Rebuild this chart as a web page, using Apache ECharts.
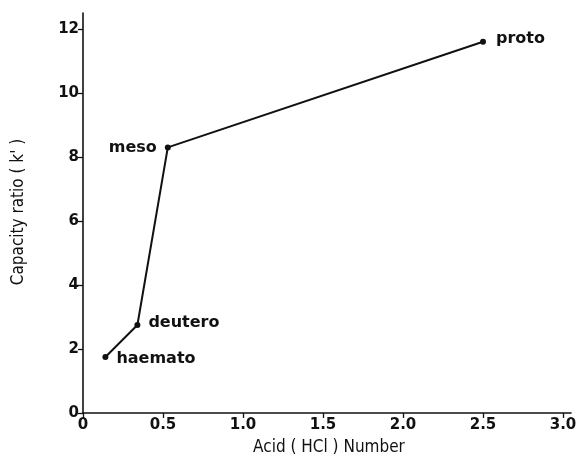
<!DOCTYPE html>
<html><head><meta charset="utf-8">
<script src="https://cdn.jsdelivr.net/npm/echarts@6/dist/echarts.min.js"></script>
<style>html,body{margin:0;padding:0;background:#fff}#c{width:580px;height:466px}</style>
</head><body><div id="c"></div>
<script>
const names = ['haemato', 'deutero', 'meso', 'proto'];
const acidNumber = [0.14, 0.34, 0.53, 2.5];
const capacityRatio = [1.75, 2.75, 8.3, 11.6];
const xTicks = [0, 0.5, 1.0, 1.5, 2.0, 2.5, 3.0];
const yTicks = [0, 2, 4, 6, 8, 10, 12];
const xTitle = 'Acid ( HCl ) Number';
const yTitle = "Capacity ratio ( k' )";

const labelPos = {haemato: 'right', deutero: 'right', meso: 'left', proto: 'right'};
const labelOff = {haemato: [3, 2], deutero: [3, -2], meso: [-3, 0], proto: [5, -3]};
const titleFont = '"DejaVu Sans Condensed", "Liberation Sans"';

const chart = echarts.init(document.getElementById('c'));
chart.setOption({
  animation: false,
  backgroundColor: '#fff',
  grid: {left: 83, right: 9, top: 13, bottom: 53},
  graphic: [
    {type: 'text', x: 329, y: 448, style: {text: xTitle, fill: '#111', font: '17px ' + titleFont, align: 'center', verticalAlign: 'middle'}},
    {type: 'text', x: 19, y: 212, rotation: Math.PI / 2, style: {text: yTitle, fill: '#111', font: '17px ' + titleFont, align: 'center', verticalAlign: 'middle'}}
  ],
  xAxis: {
    type: 'value', min: 0, max: 3.05,
    axisLine: {show: true, onZero: false, lineStyle: {color: '#111', width: 1.6}},
    axisTick: {show: true, inside: false, length: 5, customValues: xTicks, lineStyle: {color: '#111', width: 1.3}},
    axisLabel: {customValues: xTicks, margin: 5, color: '#111', fontSize: 15, fontWeight: 'bold', fontFamily: 'DejaVu Sans',
      formatter: v => v === 0 ? '0' : v.toFixed(1)},
    splitLine: {show: false}
  },
  yAxis: {
    type: 'value', min: 0, max: 12.5,
    axisLine: {show: true, onZero: false, lineStyle: {color: '#111', width: 1.6}},
    axisTick: {show: true, inside: false, length: 5, customValues: yTicks, lineStyle: {color: '#111', width: 1.3}},
    axisLabel: {customValues: yTicks, margin: 4, color: '#111', fontSize: 15, fontWeight: 'bold', fontFamily: 'DejaVu Sans'},
    splitLine: {show: false}
  },
  series: [{
    type: 'line',
    data: names.map((n, i) => ({
      value: [acidNumber[i], capacityRatio[i]], name: n,
      label: {show: true, position: labelPos[n], offset: labelOff[n]}
    })),
    symbol: 'circle', symbolSize: 6,
    itemStyle: {color: '#111'},
    lineStyle: {color: '#111', width: 2},
    label: {show: true, formatter: p => p.name, color: '#111', fontSize: 16, fontWeight: 'bold', fontFamily: 'DejaVu Sans', distance: 5}
  }]
});
</script></body></html>
